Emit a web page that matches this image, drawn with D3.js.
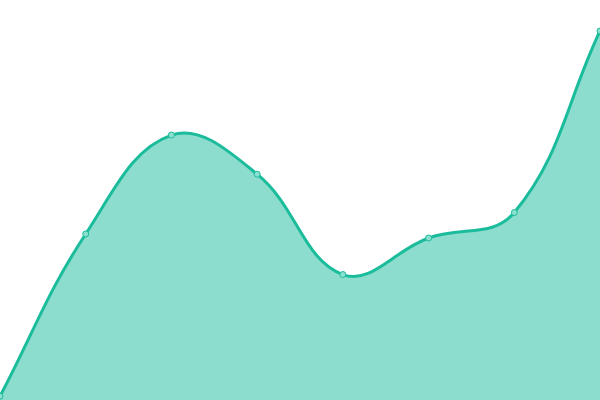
<!DOCTYPE html>
<html>
<head>
<meta charset="utf-8">
<script src="https://cdn.jsdelivr.net/npm/d3@7"></script>
<style>
html,body{margin:0;padding:0;background:#fff;}
svg{display:block;}
</style>
</head>
<body>
<svg id="chart" width="600" height="400"></svg>
<script>
const categories = [0, 1, 2, 3, 4, 5, 6, 7];
const values = [1, 45, 71.8, 61.2, 34, 43.9, 50.8, 100];

const W = 600, H = 400;
const svg = d3.select("#chart");
const x = d3.scaleLinear().domain([0, categories.length - 1]).range([0, W]);
const y = d3.scaleLinear().domain([0, 100]).range([400, 31]);

// Spline curve with distance-weighted control points (tension 0.4)
function SplineCurve(context) { this._context = context; }
SplineCurve.prototype = {
  areaStart() { this._line = 0; },
  areaEnd() { this._line = NaN; },
  lineStart() { this._pts = []; },
  point(px, py) { this._pts.push([+px, +py]); },
  lineEnd() {
    const p = this._pts, n = p.length, c = this._context, t = 0.4;
    if (n) { this._line ? c.lineTo(p[0][0], p[0][1]) : c.moveTo(p[0][0], p[0][1]); }
    const cp = p.map((cur, i) => {
      const prev = p[Math.max(i - 1, 0)], next = p[Math.min(i + 1, n - 1)];
      const d01 = Math.hypot(cur[0] - prev[0], cur[1] - prev[1]);
      const d12 = Math.hypot(next[0] - cur[0], next[1] - cur[1]);
      let s01 = d01 / (d01 + d12), s12 = d12 / (d01 + d12);
      if (!isFinite(s01)) s01 = 0;
      if (!isFinite(s12)) s12 = 0;
      const fa = t * s01, fb = t * s12;
      return {
        px: cur[0] - fa * (next[0] - prev[0]), py: cur[1] - fa * (next[1] - prev[1]),
        nx: cur[0] + fb * (next[0] - prev[0]), ny: cur[1] + fb * (next[1] - prev[1])
      };
    });
    for (let i = 1; i < n; i++) {
      c.bezierCurveTo(cp[i - 1].nx, cp[i - 1].ny, cp[i].px, cp[i].py, p[i][0], p[i][1]);
    }
    if (this._line || (this._line !== 0 && n === 1)) c.closePath();
    this._line = 1 - this._line;
  }
};
const curve = ctx => new SplineCurve(ctx);

const data = categories.map((c, i) => ({c, v: values[i]}));

svg.append("path")
  .datum(data)
  .attr("fill", "#1abc9c")
  .attr("fill-opacity", 0.5)
  .attr("d", d3.area().x(d => x(d.c)).y0(H).y1(d => y(d.v)).curve(curve));

svg.append("path")
  .datum(data)
  .attr("fill", "none")
  .attr("stroke", "#1abc9c")
  .attr("stroke-width", 3)
  .attr("d", d3.line().x(d => x(d.c)).y(d => y(d.v)).curve(curve));

svg.selectAll("circle.pt")
  .data(data)
  .join("circle")
  .attr("class", "pt")
  .attr("cx", d => x(d.c))
  .attr("cy", d => y(d.v))
  .attr("r", 3)
  .attr("fill", "#8ce0cf")
  .attr("stroke", "#1abc9c")
  .attr("stroke-width", 1);
</script>
</body>
</html>
